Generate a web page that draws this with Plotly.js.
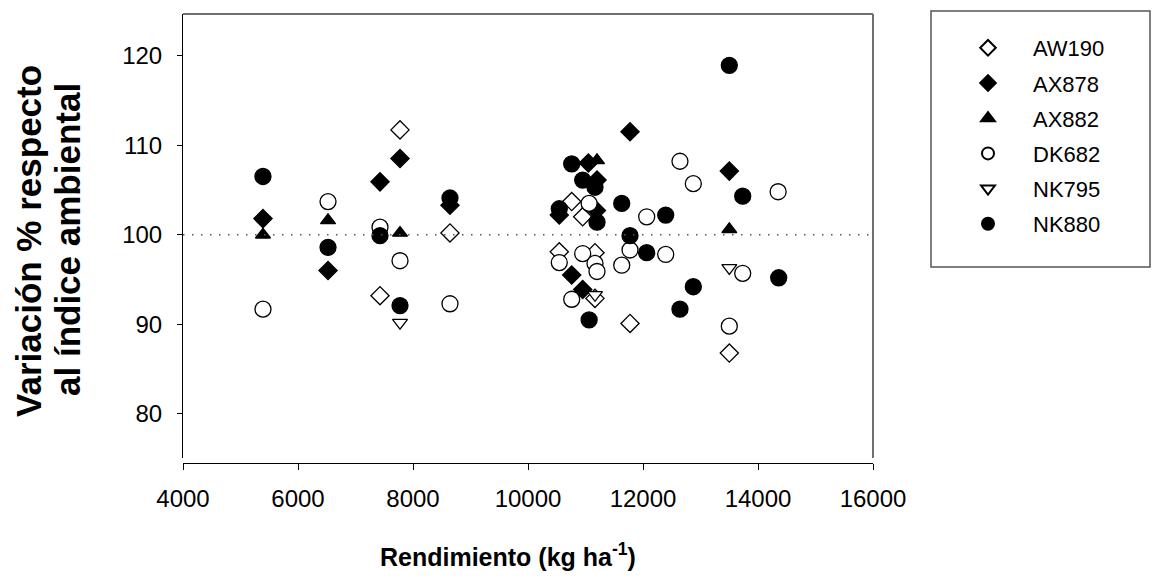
<!DOCTYPE html>
<html>
<head>
<meta charset="utf-8">
<script src="https://cdn.plot.ly/plotly-3.0.1.min.js"></script>
<style>html,body{margin:0;padding:0;background:#fff;}#chart{width:1156px;height:586px;}</style>
</head>
<body>
<div id="chart"></div>
<script>
// Data
const seriesNames = ["AW190", "AX878", "AX882", "DK682", "NK795", "NK880"];

const aw190X = [7426, 7774, 8643, 10544, 10760, 10951, 11165, 11165, 11774, 13501];
const aw190Y = [93.2, 111.7, 100.2, 98.1, 103.7, 102.0, 98.0, 92.9, 90.1, 86.8];

const ax878X = [5391, 6522, 7426, 7774, 8643, 10544, 10760, 10951, 11050, 11200, 11190, 11774, 13501];
const ax878Y = [101.8, 96.0, 105.9, 108.5, 103.3, 102.2, 95.5, 93.9, 108.0, 106.1, 102.7, 111.5, 107.1];

const ax882X = [5391, 6522, 7774, 11200, 13501];
const ax882Y = [100.0, 101.6, 100.2, 108.3, 100.6];

const dk682X = [5391, 6522, 7426, 7774, 8643, 10544, 10760, 10951, 11063, 11165, 11200, 11630, 11774, 12064, 12395, 12643, 12875, 13501, 13734, 14350];
const dk682Y = [91.7, 103.7, 100.85, 97.1, 92.3, 96.9, 92.8, 97.9, 103.5, 96.8, 95.9, 96.6, 98.3, 102.0, 97.8, 108.2, 105.7, 89.8, 95.7, 104.8];

const nk795X = [7774, 11165, 13501];
const nk795Y = [90.2, 93.3, 96.3];

const nk880X = [5391, 6522, 7426, 7774, 8643, 10544, 10760, 10951, 11063, 11165, 11200, 11630, 11774, 12064, 12395, 12643, 12875, 13501, 13734, 14360];
const nk880Y = [106.5, 98.6, 99.9, 92.1, 104.1, 102.9, 107.9, 106.1, 90.5, 105.3, 101.4, 103.5, 99.9, 98.0, 102.2, 91.7, 94.2, 118.9, 104.3, 95.2];

const xTickVals = [4000, 6000, 8000, 10000, 12000, 14000, 16000];
const xTickText = ["4000", "6000", "8000", "10000", "12000", "14000", "16000"];
const yTickVals = [80, 90, 100, 110, 120];
const refLineY = 100;

const xs = [aw190X, ax878X, ax882X, dk682X, nk795X, nk880X];
const ys = [aw190Y, ax878Y, ax882Y, dk682Y, nk795Y, nk880Y];
const symbols = ["diamond", "diamond", "triangle-up", "circle", "triangle-down", "circle"];
const fills = ["#ffffff", "#000000", "#000000", "#ffffff", "#ffffff", "#000000"];
const sizes = [14, 14, 13, 16, 13, 16];

const traces = seriesNames.map((n, i) => ({
  type: "scatter",
  mode: "markers",
  name: n,
  legendgroup: n,
  x: xs[i],
  y: ys[i],
  marker: {
    symbol: symbols[i],
    size: sizes[i],
    color: fills[i],
    line: {color: "#000000", width: 1.3}
  }
}));

const font = "Liberation Sans, Arial, Helvetica, sans-serif";
const L = 183, R = 873, T = 14, B = 463;
const plotW = R - L;
const plotH = B - T;
const yDom0 = 5 / plotH;

const layout = {
  width: 1156,
  height: 586,
  margin: {l: L, r: 1156 - R, t: T, b: 586 - B},
  paper_bgcolor: "#ffffff",
  plot_bgcolor: "#ffffff",
  showlegend: true,
  font: {family: font, color: "#000000"},
  xaxis: {
    range: [4000, 16000],
    tickvals: xTickVals,
    ticktext: xTickText,
    anchor: "free",
    position: 0,
    showgrid: false,
    zeroline: false,
    showline: true,
    linecolor: "#000000",
    linewidth: 1,
    ticks: "outside",
    ticklen: 6,
    tickcolor: "#000000",
    ticklabelstandoff: 8,
    tickfont: {family: font, size: 24, color: "#000000"}
  },
  yaxis: {
    range: [75.09, 124.63],
    domain: [yDom0, 1],
    anchor: "x",
    tickvals: yTickVals,
    showgrid: false,
    zeroline: false,
    showline: true,
    linecolor: "#000000",
    linewidth: 1,
    ticks: "outside",
    ticklen: 5,
    tickcolor: "#000000",
    ticklabelstandoff: 10,
    tickfont: {family: font, size: 24, color: "#000000"}
  },
  legend: {
    x: (943 - L) / plotW,
    xref: "paper",
    y: 1 - 13 / plotH,
    xanchor: "left",
    yanchor: "top",
    bgcolor: "rgba(0,0,0,0)",
    borderwidth: 0,
    itemsizing: "constant",
    itemwidth: 80,
    font: {family: font, size: 22, color: "#000000"},
    tracegroupgap: 3.6
  },
  annotations: [
    {text: "<b>Rendimiento (kg ha<sup>-1</sup>)</b>", xref: "paper", yref: "paper",
     x: (508 - L) / plotW, y: -(555 - B) / plotH, xanchor: "center", yanchor: "middle",
     showarrow: false, font: {family: font, size: 25, color: "#000000"}},
    {text: "<b>Variación % respecto</b>", xref: "paper", yref: "paper", textangle: -90,
     x: (28 - L) / plotW, y: (B - 241) / plotH, xanchor: "center", yanchor: "middle",
     showarrow: false, font: {family: font, size: 35, color: "#000000"}},
    {text: "<b>al índice ambiental</b>", xref: "paper", yref: "paper", textangle: -90,
     x: (68 - L) / plotW, y: (B - 240) / plotH, xanchor: "center", yanchor: "middle",
     showarrow: false, font: {family: font, size: 35, color: "#000000"}}
  ],
  shapes: [
    {type: "line", xref: "x", yref: "y", x0: 4000, x1: 16000, y0: refLineY, y1: refLineY,
     line: {color: "#555555", width: 1.5, dash: "1.5px,7.5px"}},
    {type: "line", xref: "paper", yref: "paper", x0: 0, x1: 1, y0: 1, y1: 1,
     line: {color: "#707070", width: 2}},
    {type: "line", xref: "paper", yref: "paper", x0: 1, x1: 1, y0: yDom0, y1: 1,
     line: {color: "#707070", width: 2}},
    {type: "rect", xref: "paper", yref: "paper",
     x0: (931 - L) / plotW, x1: (1150 - L) / plotW,
     y0: (B - 267) / plotH, y1: (B - 11) / plotH,
     line: {color: "#555555", width: 1.5}, fillcolor: "rgba(0,0,0,0)"}
  ]
};

Plotly.newPlot("chart", traces, layout, {displayModeBar: false, staticPlot: true});
</script>
</body>
</html>
